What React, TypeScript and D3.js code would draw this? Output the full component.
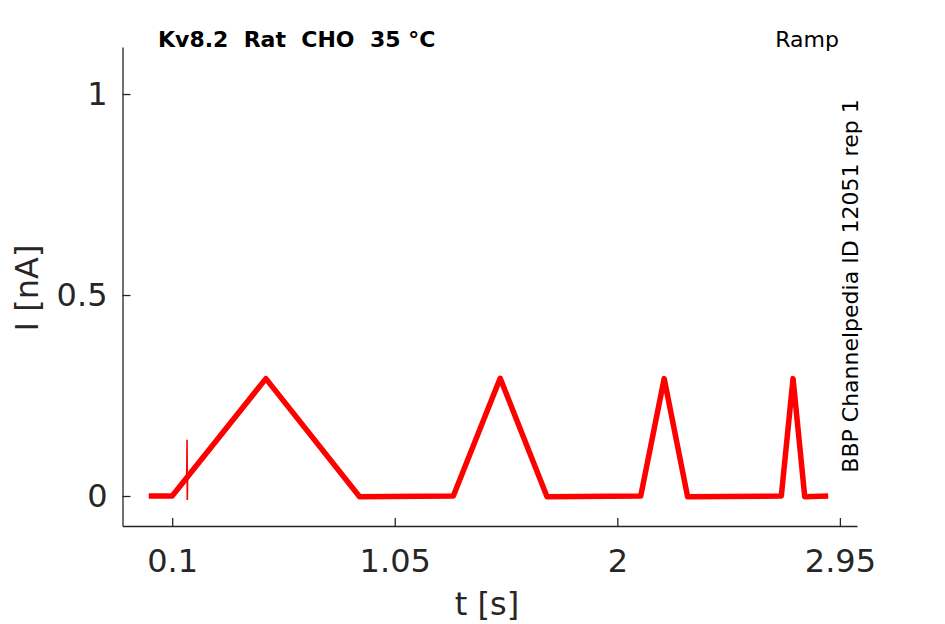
import React, { useEffect, useRef } from 'react';
import * as d3 from 'd3';

// Recorded current trace (key points of the ramp protocol response)
const traceTime = [0, 0.1, 0.5, 0.9, 1.3, 1.5, 1.7, 2.1, 2.2, 2.3, 2.7, 2.75, 2.8, 2.9];
const traceCurrent = [0, 0, 0.292, -0.002, 0, 0.293, -0.002, 0, 0.292, -0.002, 0, 0.292, -0.002, 0];

// Short capacitive artefact on the first ramp
const artefactTime = [0.162, 0.1635, 0.1645, 0.166];
const artefactCurrent = [0.04, 0.14, -0.01, 0.044];

const xTicks = [0.1, 1.05, 2, 2.95];
const xTickLabels = ['0.1', '1.05', '2', '2.95'];
const yTicks = [0, 0.5, 1];
const yTickLabels = ['0', '0.5', '1'];

const titleText = 'Kv8.2  Rat  CHO  35 °C';
const protocolText = 'Ramp';
const sourceText = 'BBP Channelpedia ID 12051 rep 1';

const App: React.FC = () => {
  const svgRef = useRef<SVGSVGElement>(null);

  useEffect(() => {
    if (!svgRef.current) return;
    const svg = d3.select(svgRef.current);
    svg.selectAll('*').remove();

    const font = '"DejaVu Sans", sans-serif';
    const ink = '#262626';

    const x = d3.scaleLinear().domain([-0.112, 3.023]).range([122.5, 857]);
    const y = d3.scaleLinear().domain([-0.0746, 1.117]).range([526, 47]);

    // axes
    const xAxis = svg.append('g')
      .attr('transform', `translate(0,${y.range()[0]})`)
      .call(d3.axisBottom(x)
        .tickValues(xTicks)
        .tickFormat((_, i) => xTickLabels[i])
        .tickSizeInner(-8)
        .tickSizeOuter(0)
        .tickPadding(23));

    const yAxis = svg.append('g')
      .attr('transform', `translate(${x.range()[0]},0)`)
      .call(d3.axisLeft(y)
        .tickValues(yTicks)
        .tickFormat((_, i) => yTickLabels[i])
        .tickSizeInner(-8)
        .tickSizeOuter(0)
        .tickPadding(15));

    [xAxis, yAxis].forEach(g => {
      g.select('.domain').attr('stroke', ink).attr('stroke-width', 1.3);
      g.selectAll('.tick line').attr('stroke', ink).attr('stroke-width', 1.3);
      g.selectAll('.tick text')
        .attr('fill', ink)
        .style('font-family', font)
        .style('font-size', '32px');
    });

    // trace
    const line = d3.line<number>()
      .x((_, i) => x(traceTime[i]))
      .y(d => y(d));

    svg.append('path')
      .datum(traceCurrent)
      .attr('fill', 'none')
      .attr('stroke', '#ff0000')
      .attr('stroke-width', 5.5)
      .attr('stroke-linejoin', 'round')
      .attr('d', line);

    const artefactLine = d3.line<number>()
      .x((_, i) => x(artefactTime[i]))
      .y(d => y(d));

    svg.append('path')
      .datum(artefactCurrent)
      .attr('fill', 'none')
      .attr('stroke', '#ff0000')
      .attr('stroke-width', 1.6)
      .attr('d', artefactLine);

    // labels
    svg.append('text')
      .attr('x', 487)
      .attr('y', 615)
      .attr('text-anchor', 'middle')
      .attr('fill', ink)
      .style('font-family', font)
      .style('font-size', '32px')
      .text('t [s]');

    svg.append('text')
      .attr('transform', 'translate(38,288) rotate(-90)')
      .attr('text-anchor', 'middle')
      .attr('fill', ink)
      .style('font-family', font)
      .style('font-size', '32px')
      .text('I [nA]');

    svg.append('text')
      .attr('x', 158)
      .attr('y', 47)
      .attr('fill', '#000')
      .style('font-family', font)
      .style('font-size', '22px')
      .style('font-weight', 'bold')
      .style('white-space', 'pre')
      .text(titleText);

    svg.append('text')
      .attr('x', 839)
      .attr('y', 47)
      .attr('text-anchor', 'end')
      .attr('fill', '#000')
      .style('font-family', font)
      .style('font-size', '22px')
      .text(protocolText);

    svg.append('text')
      .attr('transform', 'translate(858,286) rotate(-90)')
      .attr('text-anchor', 'middle')
      .attr('fill', '#000')
      .style('font-family', font)
      .style('font-size', '22px')
      .text(sourceText);
  }, []);

  return (
    <svg
      ref={svgRef}
      width={945}
      height={624}
      style={{ position: 'absolute', left: 0, top: 0, background: '#fff' }}
    />
  );
};

export default App;
